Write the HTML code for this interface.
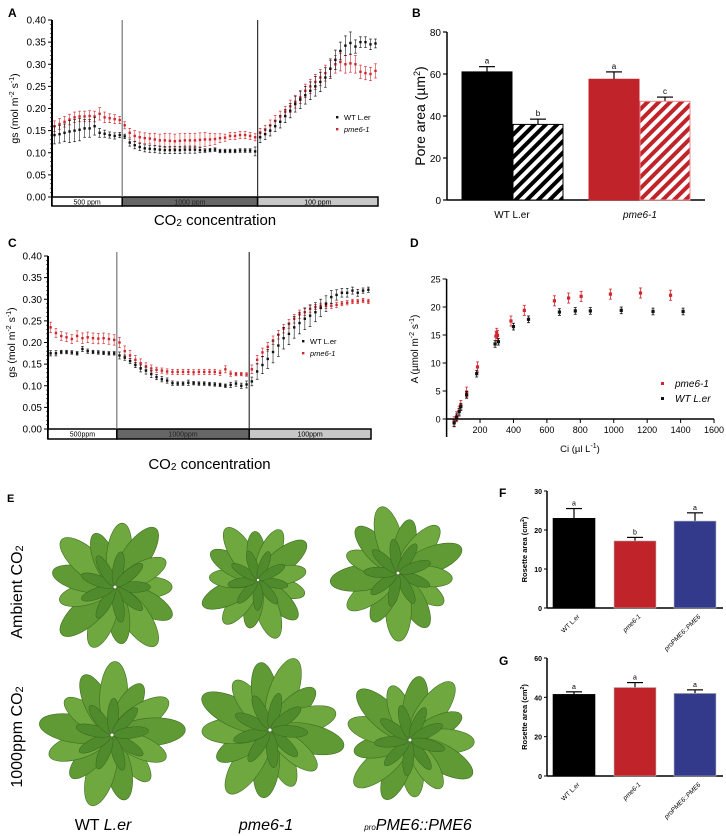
<!DOCTYPE html>
<html><head><meta charset="utf-8"><style>
html,body{margin:0;padding:0;background:#fff;}
svg{display:block;font-family:"Liberation Sans",Arial,sans-serif;}
</style></head><body>
<svg id="fig" width="726" height="836" viewBox="0 0 726 836">
<defs>
<pattern id="hatchK" patternUnits="userSpaceOnUse" width="8" height="8" patternTransform="rotate(45)"><rect width="8" height="8" fill="#fff"/><rect width="4" height="8" fill="#000"/></pattern>
<pattern id="hatchR" patternUnits="userSpaceOnUse" width="8" height="8" patternTransform="rotate(45)"><rect width="8" height="8" fill="#fff"/><rect width="4" height="8" fill="#c0242a"/></pattern>
<radialGradient id="leafG" cx="0.3" cy="0.5" r="0.8"><stop offset="0" stop-color="#8cbf4a"/><stop offset="1" stop-color="#4f8a2a"/></radialGradient>
</defs>
</svg>
<script>
// ---------- DATA ----------
const aBlack=[.14,.142,.145,.148,.15,.152,.155,.155,.16,.145,.143,.14,.138,.14,
.137,.123,.117,.113,.11,.109,.108,.107,.106,.106,.106,.106,.107,.107,.107,.106,.105,.106,.107,.104,.104,.104,.104,.105,.105,.105,.103,
.135,.142,.15,.16,.17,.183,.195,.21,.22,.23,.24,.25,.26,.27,.29,.31,.33,.342,.348,.34,.35,.35,.345,.347];
const aRed=[.16,.165,.17,.175,.18,.182,.182,.183,.182,.188,.18,.178,.176,.174,
.162,.145,.138,.135,.133,.132,.13,.128,.128,.127,.126,.127,.128,.128,.128,.129,.13,.13,.131,.133,.134,.138,.138,.14,.14,.138,.135,
.145,.152,.162,.172,.182,.193,.205,.215,.225,.24,.25,.26,.27,.28,.29,.3,.305,.3,.302,.3,.283,.28,.278,.285];
const aBlackErr=[.02,.02,.02,.025,.025,.025,.02,.02,.02,.01,.008,.007,.007,.006,
.005,.008,.008,.008,.008,.008,.008,.008,.008,.008,.008,.008,.008,.008,.008,.006,.004,.004,.004,.004,.004,.004,.004,.004,.004,.004,.01,
.012,.012,.012,.012,.014,.015,.016,.018,.02,.02,.02,.022,.022,.022,.022,.022,.02,.022,.025,.015,.012,.012,.012,.01];
const aRedErr=[.012,.012,.012,.012,.012,.012,.012,.012,.012,.014,.012,.01,.01,.008,
.008,.01,.012,.012,.012,.012,.014,.014,.016,.016,.016,.016,.016,.016,.016,.016,.016,.014,.012,.01,.008,.008,.008,.008,.008,.008,.008,
.01,.01,.012,.012,.012,.012,.014,.014,.014,.015,.016,.017,.018,.018,.018,.02,.02,.02,.02,.02,.015,.015,.015,.016];
const aSegments=[14,27,24];
const aBands=["500 ppm","1000 ppm","100 ppm"];

const cBlack=[.175,.175,.178,.178,.177,.175,.185,.18,.178,.177,.176,.175,.175,
.17,.165,.157,.148,.14,.135,.127,.12,.115,.112,.106,.105,.105,.107,.106,.105,.105,.104,.103,.102,.1,.102,.105,.1,.103,
.11,.133,.148,.162,.178,.193,.21,.22,.235,.245,.255,.262,.27,.28,.29,.305,.31,.315,.315,.32,.315,.32,.322];
const cRed=[.235,.222,.215,.212,.208,.215,.21,.212,.21,.209,.21,.208,.206,
.2,.18,.17,.16,.152,.145,.14,.137,.135,.133,.132,.132,.132,.132,.131,.132,.132,.132,.132,.13,.138,.128,.127,.127,.126,
.138,.16,.177,.19,.205,.218,.232,.243,.255,.265,.27,.278,.282,.285,.285,.285,.287,.29,.292,.295,.295,.297,.295];
const cBlackErr=[.006,.006,.004,.004,.004,.004,.006,.005,.004,.004,.004,.004,.004,
.008,.006,.006,.006,.008,.008,.008,.006,.006,.006,.005,.004,.004,.006,.004,.004,.004,.004,.004,.004,.004,.006,.006,.006,.008,
.01,.018,.02,.022,.025,.025,.025,.025,.025,.025,.025,.025,.022,.02,.018,.015,.012,.01,.01,.008,.008,.006,.006];
const cRedErr=[.012,.01,.01,.01,.01,.012,.012,.012,.012,.012,.012,.012,.012,
.012,.012,.012,.01,.01,.008,.008,.006,.006,.006,.006,.006,.006,.006,.006,.006,.006,.006,.006,.006,.008,.006,.004,.004,.004,
.01,.01,.01,.01,.01,.01,.01,.01,.01,.01,.008,.008,.006,.006,.006,.006,.006,.005,.005,.005,.005,.005,.005];
const cSegments=[13,25,23];
const cBands=["500ppm","1000ppm","100ppm"];
const gsTicks=[0,.05,.1,.15,.2,.25,.3,.35,.4];

const bCats=["WT L.er","pme6-1"];
const bValues=[61,36,57.5,47];
const bErr=[2.5,2.5,3.5,2];
const bLetters=["a","b","a","c"];
const bTicks=[0,20,40,60,80];

const dRedX=[45,60,75,85,120,185,295,300,305,385,465,645,730,805,980,1160,1340];
const dRedY=[-0.5,0.4,1.4,2.4,4.8,9.3,14.8,15.3,14.9,17.5,19.4,21.1,21.6,21.9,22.3,22.5,22.1];
const dBlackX=[45,60,75,85,120,180,290,310,400,490,675,770,860,1045,1235,1415];
const dBlackY=[-0.7,0.3,1.3,2.2,4.3,8.1,13.4,13.8,16.5,17.8,19.1,19.3,19.3,19.4,19.2,19.2];
const dXTicks=[200,400,600,800,1000,1200,1400,1600];
const dYTicks=[0,5,10,15,20,25];

const fgCats=["WT L.er","pme6-1","proPME6::PME6"];
const fValues=[23,17.2,22.3];
const fErr=[2.5,0.9,2.1];
const fLetters=["a","b","a"];
const fTicks=[0,10,20,30];
const gValues=[41.5,45,42];
const gErr=[1.3,2.5,1.8];
const gLetters=["a","a","a"];
const gTicks=[0,20,40,60];

// ---------- HELPERS ----------
const svg=document.getElementById('fig');
const NS='http://www.w3.org/2000/svg';
function mk(tag,attrs,parent,text){const e=document.createElementNS(NS,tag);for(const k in attrs)e.setAttribute(k,attrs[k]);if(text!==undefined)e.textContent=text;(parent||svg).appendChild(e);return e;}
function grp(name){const g=mk('g',{});


return g;}
function label(x,y,t,size,name,extra,parent){const e=mk('text',Object.assign({x:x,y:y,'font-size':size},extra||{}),parent,t);


return e;}

// ---------- gs time-course panels ----------
function gsPanel(o){
  const g=grp(o.name);
  const x0=o.x0,x1=o.x1,yTop=o.yTop,yBot=o.yBot;
  const ys=v=>yBot-(v/0.4)*(yBot-yTop);
  const N=o.black.length, step=(x1-x0)/N;
  const xs=i=>x0+(i+0.5)*step;
  // y axis
  mk('line',{x1:x0,y1:yTop,x2:x0,y2:o.bandBot,stroke:'#000','stroke-width':2},g);
  for(let v=0;v<=0.4001;v+=0.01){const y=ys(v);mk('line',{x1:x0-2,y1:y,x2:x0,y2:y,stroke:'#000','stroke-width':0.6},g);}
  gsTicks.forEach(t=>{const y=ys(t);mk('line',{x1:x0-4,y1:y,x2:x0,y2:y,stroke:'#000','stroke-width':1},g);
    label(x0-6,y+3.5,t.toFixed(2),10,'y-tick-label',{'text-anchor':'end'},g);});
  const yl=label(0,0,'',10.5,'y-axis-title',{transform:`translate(${o.ylx},${(yTop+yBot)/2}) rotate(-90)`,'text-anchor':'middle'},g);
  yl.innerHTML='gs (mol m<tspan dy="-4" font-size="7">-2</tspan><tspan dy="4"> s</tspan><tspan dy="-4" font-size="7">-1</tspan><tspan dy="4">)</tspan>';
  // bands
  const fills=['#fff','#666','#c8c8c8'];let start=0;
  o.segs.forEach((n,k)=>{const bx=x0+start*step,bw=n*step;
    const r=mk('rect',{x:bx,y:yBot,width:bw,height:o.bandBot-yBot,fill:fills[k],stroke:'#000','stroke-width':1.5},g);
    
    
    label(bx+bw/2,yBot+7.5,o.bands[k],7,'co2-band-label',{'text-anchor':'middle',fill:k==1?'#222':'#000'},g);
    if(k>0){const l=mk('line',{x1:bx,y1:o.divTop,x2:bx,y2:yBot,stroke:k==1?'#777':'#333','stroke-width':1.2},g);
      
      }
    start+=n;});
  // series
  [[o.red,o.redErr,'#d0262c','series-pme6-1'],[o.black,o.blackErr,'#111','series-wt-ler']].forEach(([vals,err,col,nm])=>{
    const sg=grp(nm);g.appendChild(sg);
    vals.forEach((v,i)=>{const x=xs(i),y=ys(v),eh=(err[i]/0.4)*(yBot-yTop);
      mk('line',{x1:x,y1:y-eh,x2:x,y2:y+eh,stroke:col,'stroke-width':0.7,opacity:0.8},sg);
      mk('line',{x1:x-1.3,y1:y-eh,x2:x+1.3,y2:y-eh,stroke:col,'stroke-width':0.7},sg);
      mk('line',{x1:x-1.3,y1:y+eh,x2:x+1.3,y2:y+eh,stroke:col,'stroke-width':0.7},sg);
      const p=mk('rect',{x:x-1.2,y:y-1.2,width:2.4,height:2.4,fill:col},sg);
      
      });
  });
  // legend
  mk('rect',{x:o.lx-1,y:o.ly-3,width:2.4,height:2.4,fill:'#111'},g);
  label(o.lx+7,o.ly+1,'WT L.er',7.5,'legend-entry-wt',{},g);
  mk('rect',{x:o.lx-1,y:o.ly+9,width:2.4,height:2.4,fill:'#d0262c'},g);
  label(o.lx+7,o.ly+13,'pme6-1',7.5,'legend-entry-pme6',{'font-style':'italic'},g);
  const t=label((x0+x1)/2,o.titleY,'',15,'x-axis-title',{'text-anchor':'middle'},g);
  t.innerHTML='CO<tspan font-size="10" dy="1">2</tspan><tspan dy="-1"> concentration</tspan>';
}
label(8,17,'A',12,'panel-label-a',{'font-weight':'bold'});
gsPanel({name:'chart-a',x0:52,x1:378,yTop:20,yBot:197,bandBot:206,divTop:20,black:aBlack,red:aRed,blackErr:aBlackErr,redErr:aRedErr,segs:aSegments,bands:aBands,ylx:18,lx:337,ly:119,titleY:225});
label(8,247,'C',12,'panel-label-c',{'font-weight':'bold'});
gsPanel({name:'chart-c',x0:48,x1:371,yTop:256,yBot:429,bandBot:439,divTop:252,black:cBlack,red:cRed,blackErr:cBlackErr,redErr:cRedErr,segs:cSegments,bands:cBands,ylx:15,lx:303,ly:343,titleY:469});

// ---------- B ----------
(function(){
  const g=grp('chart-b');
  label(412,17,'B',12,'panel-label-b',{'font-weight':'bold'},g);
  const x0=447,x1=705,y0=200,yT=32,ys=v=>y0-v/80*(y0-yT);
  mk('line',{x1:x0,y1:yT,x2:x0,y2:y0,stroke:'#000','stroke-width':1.5},g);
  mk('line',{x1:x0,y1:y0,x2:x1,y2:y0,stroke:'#000','stroke-width':1.5},g);
  bTicks.forEach(t=>{mk('line',{x1:x0-4,y1:ys(t),x2:x0,y2:ys(t),stroke:'#000','stroke-width':1.2},g);
    label(x0-6,ys(t)+4,String(t),10,'y-tick-label',{'text-anchor':'end'},g);});
  const yl=label(0,0,'',14,'y-axis-title',{transform:`translate(${425},${116}) rotate(-90)`,'text-anchor':'middle'},g);
  yl.innerHTML='Pore area (µm<tspan dy="-5" font-size="9">2</tspan><tspan dy="5">)</tspan>';
  const bx=[462,513,589,640],bw=50;
  const fills=['#000','url(#hatchK)','#c0242a','url(#hatchR)'],strokes=['#000','#000','#c0242a','#e88'];
  bValues.forEach((v,i)=>{
    mk('line',{x1:bx[i]+bw/2,y1:ys(v+bErr[i]),x2:bx[i]+bw/2,y2:ys(v),stroke:'#000','stroke-width':1.2},g);
    mk('line',{x1:bx[i]+bw/2-8,y1:ys(v+bErr[i]),x2:bx[i]+bw/2+8,y2:ys(v+bErr[i]),stroke:'#000','stroke-width':1.2},g);
    const r=mk('rect',{x:bx[i],y:ys(v),width:bw,height:y0-ys(v),fill:fills[i],stroke:strokes[i],'stroke-width':1},g);
    
    
    label(bx[i]+bw/2,ys(v+bErr[i])-3,bLetters[i],8,'significance-letter',{'text-anchor':'middle'},g);});
  label(512,218,bCats[0],10,'x-tick-label',{'text-anchor':'middle'},g);
  label(640,218,bCats[1],10,'x-tick-label',{'text-anchor':'middle','font-style':'italic'},g);
})();

// ---------- D ----------
(function(){
  const g=grp('chart-d');
  label(410,247,'D',12,'panel-label-d',{'font-weight':'bold'},g);
  const x0=446.6,xs=v=>x0+v*(234/1400),y0=419,ys=v=>y0-v*(140/25);
  mk('line',{x1:x0,y1:ys(25),x2:x0,y2:437,stroke:'#000','stroke-width':1.5},g);
  mk('line',{x1:x0,y1:y0,x2:xs(1600),y2:y0,stroke:'#000','stroke-width':1.5},g);
  dYTicks.forEach(t=>{mk('line',{x1:x0-4,y1:ys(t),x2:x0,y2:ys(t),stroke:'#000','stroke-width':1},g);
    label(x0-6,ys(t)+3.5,String(t),9,'y-tick-label',{'text-anchor':'end'},g);});
  dXTicks.forEach(t=>{mk('line',{x1:xs(t),y1:y0,x2:xs(t),y2:y0+4,stroke:'#000','stroke-width':1},g);
    label(xs(t),y0+14,String(t),9,'x-tick-label',{'text-anchor':'middle'},g);});
  const yl=label(0,0,'',10,'y-axis-title',{transform:`translate(${418},${349}) rotate(-90)`,'text-anchor':'middle'},g);
  yl.innerHTML='A (µmol m<tspan dy="-4" font-size="7">-2</tspan><tspan dy="4"> s</tspan><tspan dy="-4" font-size="7">-1</tspan><tspan dy="4">)</tspan>';
  const xl=label(580,452,'',9.5,'x-axis-title',{'text-anchor':'middle'},g);
  xl.innerHTML='Ci (µl L<tspan dy="-4" font-size="7">-1</tspan><tspan dy="4">)</tspan>';
  [[dRedX,dRedY,'#d0262c','series-pme6-1',0.9],[dBlackX,dBlackY,'#111','series-wt-ler',0.6]].forEach(([X,Y,c,nm,e])=>{
    const sg=grp(nm);g.appendChild(sg);
    X.forEach((xv,i)=>{const x=xs(xv),y=ys(Y[i]),eh=e*5.6;
      mk('line',{x1:x,y1:y-eh,x2:x,y2:y+eh,stroke:c,'stroke-width':0.8},sg);
      mk('line',{x1:x-1.5,y1:y-eh,x2:x+1.5,y2:y-eh,stroke:c,'stroke-width':0.8},sg);
      mk('line',{x1:x-1.5,y1:y+eh,x2:x+1.5,y2:y+eh,stroke:c,'stroke-width':0.8},sg);
      const p=mk('rect',{x:x-1.6,y:y-1.6,width:3.2,height:3.2,fill:c},sg);
      
      });
  });
  mk('rect',{x:661,y:382,width:3,height:3,fill:'#d0262c'},g);
  label(675,387,'pme6-1',10,'legend-entry-pme6',{'font-style':'italic'},g);
  mk('rect',{x:661,y:397,width:3,height:3,fill:'#111'},g);
  label(675,402,'WT L.er',10,'legend-entry-wt',{'font-style':'italic'},g);
})();

// ---------- F & G ----------
function rosetteChart(o){
  const g=grp(o.name);
  label(o.lx,o.ly,o.letter,12,'panel-label',{'font-weight':'bold'},g);
  const x0=547,x1=723,ys=v=>o.y0-v/o.max*(o.y0-o.yT);
  mk('line',{x1:x0,y1:o.yT,x2:x0,y2:o.y0,stroke:'#000','stroke-width':1.5},g);
  mk('line',{x1:x0,y1:o.y0,x2:x1,y2:o.y0,stroke:'#000','stroke-width':1.5},g);
  o.ticks.forEach(t=>{mk('line',{x1:x0-3,y1:ys(t),x2:x0,y2:ys(t),stroke:'#000','stroke-width':1},g);
    label(x0-5,ys(t)+3,String(t),7,'y-tick-label',{'text-anchor':'end','font-weight':'bold'},g);});
  const yl=label(0,0,'',7.5,'y-axis-title',{transform:`translate(${527},${(o.y0+o.yT)/2}) rotate(-90)`,'text-anchor':'middle','font-weight':'bold'},g);
  yl.innerHTML='Rosette area (cm<tspan dy="-3" font-size="5">2</tspan><tspan dy="3">)</tspan>';
  const bx=[553,614,674],bw=42,cols=['#000','#c0242a','#333a8c'];
  o.values.forEach((v,i)=>{const cx=bx[i]+bw/2;
    mk('line',{x1:cx,y1:ys(v+o.err[i]),x2:cx,y2:ys(v),stroke:'#000','stroke-width':1.2},g);
    mk('line',{x1:cx-8,y1:ys(v+o.err[i]),x2:cx+8,y2:ys(v+o.err[i]),stroke:'#000','stroke-width':1.2},g);
    const r=mk('rect',{x:bx[i],y:ys(v),width:bw,height:o.y0-ys(v),fill:cols[i],stroke:i==0?'#000':'#bbb','stroke-width':0.6},g);
    
    
    label(cx,ys(v+o.err[i])-3,o.letters[i],7,'significance-letter',{'text-anchor':'middle'},g);
    label(cx+6,o.y0+9,fgCats[i],6.5,'x-tick-label',{'text-anchor':'end',transform:`rotate(-45 ${cx+6} ${o.y0+9})`,'font-style':i>0?'italic':'normal'},g);});
}
rosetteChart({name:'chart-f',letter:'F',lx:499,ly:497,y0:608,yT:491,max:30,ticks:fTicks,values:fValues,err:fErr,letters:fLetters});
rosetteChart({name:'chart-g',letter:'G',lx:499,ly:665,y0:776,yT:658,max:60,ticks:gTicks,values:gValues,err:gErr,letters:gLetters});

// ---------- E (photos approximated) ----------
(function(){
  const g=grp('panel-e-photos');
  label(7,502,'E',11,'panel-label-e',{'font-weight':'bold'},g);
  const plants=[[115,587,68],[258,580,58],[398,573,65],[112,735,70],[270,730,72],[410,740,68]];
  plants.forEach((p,k)=>{const pg=grp('rosette-photo-'+k);g.appendChild(pg);
    const n=13;
    for(let i=0;i<n;i++){const a=i*360/n+k*17;const L=p[2]*(0.8+0.2*((i*7)%3)/2);
      mk('ellipse',{cx:p[0]+L*0.55,cy:p[1],rx:L*0.5,ry:L*0.2,fill:i%2?'#5f9a34':'#6fa83e',stroke:'#3e6e22','stroke-width':0.6,transform:`rotate(${a} ${p[0]} ${p[1]})`},pg);}
    for(let i=0;i<9;i++){const a=i*40+k*11;const L=p[2]*0.5;
      mk('ellipse',{cx:p[0]+L*0.55,cy:p[1],rx:L*0.5,ry:L*0.16,fill:'#4f8a2c',stroke:'#3a6620','stroke-width':0.5,transform:`rotate(${a} ${p[0]} ${p[1]})`},pg);}
  });
  const r1=label(0,0,'',16,'row-label-ambient',{transform:'translate(22,592) rotate(-90)','text-anchor':'middle'},g);
  r1.innerHTML='Ambient CO<tspan font-size="11" dy="1">2</tspan>';
  const r2=label(0,0,'',16,'row-label-1000ppm',{transform:'translate(22,737) rotate(-90)','text-anchor':'middle'},g);
  r2.innerHTML='1000ppm CO<tspan font-size="11" dy="1">2</tspan>';
  const c1=label(103,830,'',16,'col-label-wt',{'text-anchor':'middle'},g);
  c1.innerHTML='WT <tspan font-style="italic">L.er</tspan>';
  label(266,830,'pme6-1',16,'col-label-pme6',{'text-anchor':'middle','font-style':'italic'},g);
  const c3=label(418,830,'',16,'col-label-pro',{'text-anchor':'middle','font-style':'italic'},g);
  c3.innerHTML='<tspan font-size="8">pro</tspan>PME6::PME6';
})();
</script>
</body></html>
